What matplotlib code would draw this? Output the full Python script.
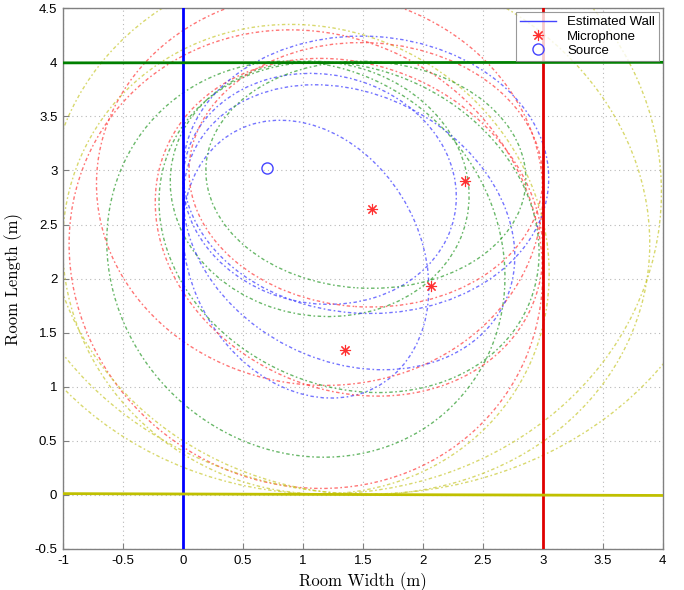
import numpy as np
import matplotlib
matplotlib.use("Agg")
import matplotlib.pyplot as plt
from matplotlib.patches import Ellipse
from matplotlib.lines import Line2D

plt.rcParams["axes.formatter.use_mathtext"] = True

# ---- data ----
source_x = [0.70]
source_y = [3.02]
mic_x = [1.35, 1.58, 2.07, 2.35]
mic_y = [1.34, 2.64, 1.93, 2.90]

wall_colors = ["#0000ff", "#e00000", "#008000", "#c0c000"]
# estimated walls: (x0, y0, x1, y1)
wall_blue = [0.0, -0.5, 0.0, 4.5]
wall_red = [3.0, -0.5, 3.0, 4.5]
wall_green = [-1.0, 3.995, 4.0, 4.0]
wall_yellow = [-1.0, 0.012, 4.0, -0.005]

# reflection path lengths (m) for each microphone, walls: blue, red, green, yellow
path_mic1 = [2.65, 4.29, 3.72, 4.39]
path_mic2 = [2.31, 3.74, 2.52, 5.71]
path_mic3 = [2.97, 3.41, 3.35, 5.13]
path_mic4 = [3.05, 2.95, 2.67, 6.13]

ellipse_colors = ["#3a3aff", "#ff3a3a", "#2a9a2a", "#c8c830"]

# ---- figure ----
fig = plt.figure(figsize=(6.84, 5.90), dpi=100)
ax = fig.add_axes([0.092, 0.0695, 0.877, 0.9165])
ax.set_xlim(-1, 4)
ax.set_ylim(-0.5, 4.5)

ax.set_xticks(np.arange(-1, 4.01, 0.5))
ax.set_yticks(np.arange(-0.5, 4.51, 0.5))
ax.set_xticklabels(["-1", "-0.5", "0", "0.5", "1", "1.5", "2", "2.5", "3", "3.5", "4"])
ax.set_yticklabels(["-0.5", "0", "0.5", "1", "1.5", "2", "2.5", "3", "3.5", "4", "4.5"])
ax.grid(True, linestyle=(0, (1, 3)), color="#b8b8b8", linewidth=0.8)
ax.set_axisbelow(True)
for s in ax.spines.values():
    s.set_color("#808080")
    s.set_linewidth(1.0)
ax.tick_params(direction="in", length=4, color="#808080", labelsize=9.5, pad=4)
for lbl in ax.get_xticklabels() + ax.get_yticklabels():
    lbl.set_fontfamily("Liberation Sans")

# ellipses: foci at source and microphone, major axis = path length
paths = [path_mic1, path_mic2, path_mic3, path_mic4]
sx, sy = source_x[0], source_y[0]
for mi in range(4):
    mx, my = mic_x[mi], mic_y[mi]
    cx, cy = (sx + mx) / 2, (sy + my) / 2
    c = np.hypot(mx - sx, my - sy) / 2
    ang = np.degrees(np.arctan2(my - sy, mx - sx))
    for wi in range(4):
        L = paths[mi][wi]
        a = L / 2
        b = np.sqrt(max(a * a - c * c, 1e-6))
        e = Ellipse((cx, cy), 2 * a, 2 * b, angle=ang, fill=False,
                    edgecolor=ellipse_colors[wi], linewidth=1.0, alpha=0.7,
                    linestyle=(0, (1.2, 1.8, 2.5, 1.8)))
        ax.add_patch(e)

# walls
for w, col in zip([wall_blue, wall_red, wall_green, wall_yellow], wall_colors):
    ax.plot([w[0], w[2]], [w[1], w[3]], color=col, linewidth=2.0, zorder=4)

asterisk = (8, 2, 0)
ax.plot(mic_x, mic_y, linestyle="none", marker=asterisk, markersize=8,
        markeredgecolor="#ff3030", markeredgewidth=0.8, zorder=5)
ax.plot(source_x, source_y, linestyle="none", marker="o", markersize=8,
        markerfacecolor="none", markeredgecolor="#4444ff", markeredgewidth=1.0, zorder=5)

handles = [
    Line2D([], [], color="#4444ff", linewidth=1.0),
    Line2D([], [], linestyle="none", marker=asterisk, markersize=8,
           markeredgecolor="#ff3030", markeredgewidth=0.8),
    Line2D([], [], linestyle="none", marker="o", markersize=8,
           markerfacecolor="none", markeredgecolor="#4444ff"),
]
leg = ax.legend(handles, ["Estimated Wall", "Microphone", "Source"], loc="upper right",
                frameon=True, fancybox=False, borderaxespad=0.3,
                handlelength=2.8, borderpad=0.3, labelspacing=0.15,
                prop={"family": "Liberation Sans", "size": 9.5})
leg.get_frame().set_edgecolor("#808080")
leg.get_frame().set_linewidth(0.8)
leg.set_zorder(10)

ax.set_xlabel("Room Width (m)", fontfamily=["cmr10", "DejaVu Serif"], fontsize=12, labelpad=4)
ax.set_ylabel("Room Length (m)", fontfamily=["cmr10", "DejaVu Serif"], fontsize=12, labelpad=8)

fig.savefig("out.png", dpi=100)
